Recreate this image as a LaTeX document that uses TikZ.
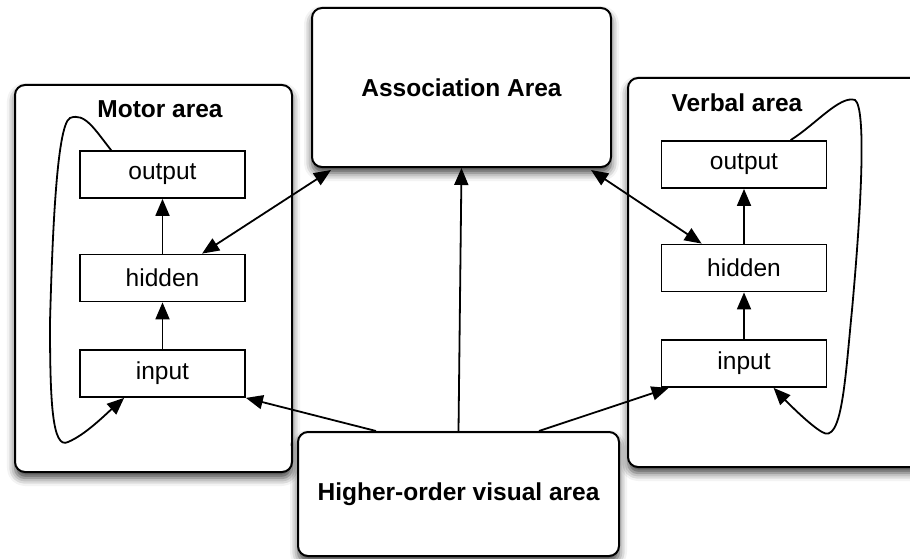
\documentclass[tikz,border=0pt]{standalone}
\usepackage{fontspec}
\setmainfont{Liberation Sans}
\usetikzlibrary{arrows.meta,calc,shadows.blur}
\begin{document}
\begin{tikzpicture}[x=1pt,y=-1pt,
  bigbox/.style={draw=black, line width=2pt, rounded corners=10pt, fill=white,
    blur shadow={shadow xshift=0pt, shadow yshift=-6pt, shadow blur radius=8pt, shadow opacity=75}},
  layer/.style={draw=black, line width=1.8pt, fill=white, minimum width=165pt, minimum height=47pt, inner sep=0pt,
    font=\fontsize{24.5}{28}\selectfont},
  title/.style={font=\fontsize{24.5}{28}\selectfont\bfseries},
  tip/.style={},
  conn/.style={line width=1.8pt, -{Triangle[length=17pt,width=14pt]}},
  dconn/.style={line width=1.8pt, {Triangle[length=17pt,width=14pt]}-{Triangle[length=17pt,width=14pt]}},
  loopline/.style={line width=1.8pt}
]
\useasboundingbox (0,0) rectangle (910,559);
% big boxes
\node[bigbox, minimum width=277pt, minimum height=387pt] (motor) at (153.5,278.5) {};
\node[bigbox, minimum width=297pt, minimum height=389pt] (verbal) at (776.5,272.5) {};
\node[bigbox, minimum width=299pt, minimum height=159pt, title] (assoc) at (461.5,87.5) {Association Area};
\node[bigbox, minimum width=321pt, minimum height=124pt, title] (hova) at (458.5,494) {Higher-order visual area};
% titles
\node[title] (mtitle) at (160,109) {Motor area};
\node[title] (vtitle) at (737,103) {Verbal area};
% motor layers
\node[layer] (mout) at (162.5,174.5) {output};
\node[layer] (mhid) at (162.5,278) {hidden};
\node[layer] (min) at (162.5,373.5) {input};
% verbal layers
\node[layer] (vout) at (744,164.5) {output};
\node[layer] (vhid) at (744,268) {hidden};
\node[layer] (vin) at (744,363.5) {input};
% internal arrows
\draw[conn] (mhid) -- (mout);
\draw[conn] (min) -- (mhid);
\draw[conn] (vhid) -- (vout);
\draw[conn] (vin) -- (vhid);
% loops
\coordinate (mloopstart) at ($(mout.north west)+(32,0)$);
\coordinate (mloopend) at ($(min.south west)+(45,0)$);
\draw[loopline, -{Triangle[length=17pt,width=14pt]}] (mloopstart)
  .. controls (95,130) and (85,112) .. (70,118)
  .. controls (56,125) and (52,250) .. (50,322)
  .. controls (50,400) and (52,450) .. (68,442)
  .. controls (85,435) and (105,415) .. (mloopend);
\coordinate (vloopstart) at ($(vout.north west)+(130,0)$);
\coordinate (vloopend) at ($(vin.south west)+(113,0)$);
\draw[loopline, -{Triangle[length=17pt,width=14pt]}] (vloopstart)
  .. controls (815,125) and (840,95) .. (855,100)
  .. controls (866,108) and (862,200) .. (852,310)
  .. controls (845,380) and (842,445) .. (822,432)
  .. controls (810,425) and (790,405) .. (vloopend);
% connections to association area
\coordinate (mh) at ($(mhid.north west)+(123,0)$);
\coordinate (am) at ($(assoc.south west)+(20,2)$);
\draw[dconn] (mh) -- (am);
\coordinate (vh) at ($(vhid.north west)+(41,0)$);
\coordinate (av) at ($(assoc.south east)+(-21,2)$);
\draw[dconn] (vh) -- (av);
\draw[conn] (hova.north) -- (assoc.south);
% from higher-order visual area
\coordinate (hm) at ($(hova.north west)+(79,0)$);
\coordinate (hv) at ($(hova.north west)+(242,0)$);
\draw[conn] (hm) -- (min.south east);
\coordinate (vinl) at ($(vin.south west)+(8,0)$);
\draw[conn] (hv) -- (vinl);
\end{tikzpicture}
\end{document}
